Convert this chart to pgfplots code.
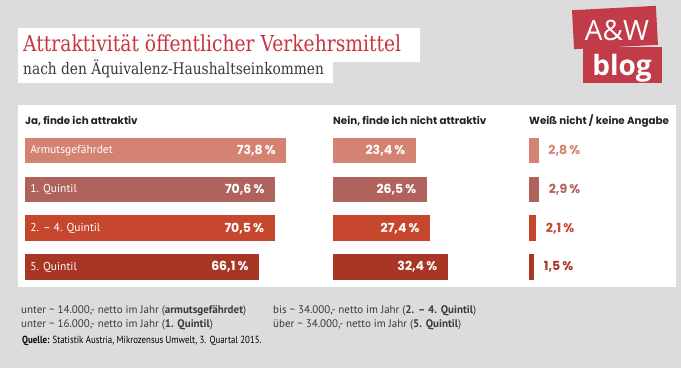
\documentclass[border=0pt]{standalone}
\usepackage{fontspec}
\usepackage{pgfplots}
\pgfplotsset{compat=1.18}
\setmainfont{PT Sans}
\newfontfamily\titlefont{DejaVu Serif}[FakeStretch=0.85]
\newfontfamily\subfont{DejaVu Serif}[FakeStretch=0.86]
\newfontfamily\pop{Poppins}
\newfontfamily\logofont{Open Sans}
\newfontfamily\quellefont{PT Sans}[FakeStretch=0.86]
\definecolor{bg}{HTML}{DCDCDC}
\definecolor{cA}{HTML}{D48372}
\definecolor{cB}{HTML}{B0625C}
\definecolor{cC}{HTML}{C7472E}
\definecolor{cD}{HTML}{A93525}
\definecolor{titred}{HTML}{C8343F}
\definecolor{logored}{HTML}{C13B48}
\definecolor{dark}{HTML}{222222}
\definecolor{foot}{HTML}{3A3A3A}
\pgfplotstableread{
idx ja nein weiss
0 73.8 23.4 2.8
1 70.6 26.5 2.9
2 70.5 27.4 2.1
3 66.1 32.4 1.5
}\data
\pgfplotsset{
  barax/.style={
    xbar, scale only axis, clip=false, axis on top,
    height=155.3pt, xmin=0,
    ymin=-0.5, ymax=3.5, y dir=reverse,
    axis line style={draw=none}, tick style={draw=none},
    xtick=\empty, ytick=\empty,
    point meta=x,
    nodes near coords={\pgfmathprintnumber{\pgfplotspointmeta}\,\%},
    /pgf/number format/.cd, use comma, fixed, fixed zerofill, precision=1, assume math mode=true,
    /pgfplots/.cd,
  },
  b/.style={draw=none, fill=#1, bar shift=0pt, bar width=25.5pt},
}
\begin{document}
\begin{tikzpicture}[x=1pt,y=1pt]
\fill[bg] (0,0) rectangle (681,368);
\path[use as bounding box] (0,0) rectangle (681,368);
% title boxes
\fill[white] (18,285) rectangle (333,308);
\fill[white] (18,306) rectangle (420,340);
\node[anchor=base west, inner sep=0, text=titred, font=\titlefont\fontsize{22}{25}\selectfont] at (23,317) {Attraktivität öffentlicher Verkehrsmittel};
\node[anchor=base west, inner sep=0, text=foot, font=\subfont\fontsize{16}{18}\selectfont] at (23,294) {nach den Äquivalenz-Haushaltseinkommen};
% logo
\fill[logored, rotate around={3:(615,340)}] (573,321) rectangle (657,360);
\fill[logored] (583,285) rectangle (662,321);
\node[anchor=base, inner sep=0, text=white, font=\logofont\fontsize{28}{30}\selectfont] at (617,328) {A\&W};
\node[anchor=base, inner sep=0, text=white, font=\logofont\bfseries\fontsize{28}{30}\selectfont] at (622,293) {blog};
% panel
\fill[white] (18,81) rectangle (676,263);
% headers
\node[anchor=base west, inner sep=0, text=dark, font=\pop\bfseries\fontsize{10.3}{12}\selectfont] at (25,244) {Ja, finde ich attraktiv};
\node[anchor=base west, inner sep=0, text=dark, font=\pop\bfseries\fontsize{10.3}{12}\selectfont] at (333,244) {Nein, finde ich nicht attraktiv};
\node[anchor=base west, inner sep=0, text=dark, font=\pop\bfseries\fontsize{10.3}{12}\selectfont] at (529,244) {Weiß nicht / keine Angabe};
% column 1
\begin{axis}[barax, at={(25pt,81.6pt)}, anchor=south west, width=283.2pt, xmax=80,
  ytick={0,1,2,3},
  yticklabels={Armutsgefährdet,1. Quintil,2. – 4. Quintil,5. Quintil},
  yticklabel style={anchor=west, xshift=6pt, text=white, font=\fontsize{11.5}{13}\selectfont},
  every node near coord/.append style={anchor=east, xshift=-7pt, text=white, font=\pop\bfseries\fontsize{12.5}{14}\selectfont}]
\addplot[b=cA] table[x=ja, y=idx, restrict expr to domain={\thisrow{idx}}{0:0}] {\data};
\addplot[b=cB] table[x=ja, y=idx, restrict expr to domain={\thisrow{idx}}{1:1}] {\data};
\addplot[b=cC] table[x=ja, y=idx, restrict expr to domain={\thisrow{idx}}{2:2}] {\data};
\addplot[b=cD] table[x=ja, y=idx, restrict expr to domain={\thisrow{idx}}{3:3}] {\data};
\end{axis}
% column 2
\begin{axis}[barax, at={(333pt,81.6pt)}, anchor=south west, width=141.6pt, xmax=40,
  every node near coord/.append style={anchor=east, xshift=-7pt, text=white, font=\pop\bfseries\fontsize{12.5}{14}\selectfont}]
\addplot[b=cA] table[x=nein, y=idx, restrict expr to domain={\thisrow{idx}}{0:0}] {\data};
\addplot[b=cB] table[x=nein, y=idx, restrict expr to domain={\thisrow{idx}}{1:1}] {\data};
\addplot[b=cC] table[x=nein, y=idx, restrict expr to domain={\thisrow{idx}}{2:2}] {\data};
\addplot[b=cD] table[x=nein, y=idx, restrict expr to domain={\thisrow{idx}}{3:3}] {\data};
\end{axis}
% column 3
\begin{axis}[barax, at={(529pt,81.6pt)}, anchor=south west, width=141.6pt, xmax=40,
  every node near coord/.append style={anchor=west, xshift=6pt, font=\pop\bfseries\fontsize{12.5}{14}\selectfont}]
\addplot[b=cA, every node near coord/.append style={text=cA}] table[x=weiss, y=idx, restrict expr to domain={\thisrow{idx}}{0:0}] {\data};
\addplot[b=cB, every node near coord/.append style={text=cB}] table[x=weiss, y=idx, restrict expr to domain={\thisrow{idx}}{1:1}] {\data};
\addplot[b=cC, every node near coord/.append style={text=cC}] table[x=weiss, y=idx, restrict expr to domain={\thisrow{idx}}{2:2}] {\data};
\addplot[b=cD, every node near coord/.append style={text=cD}] table[x=weiss, y=idx, restrict expr to domain={\thisrow{idx}}{3:3}] {\data};
\end{axis}
% footer
\begin{scope}[every node/.style={anchor=base west, inner sep=0, text=foot, font=\fontsize{11}{13}\selectfont}]
\node at (21,55) {unter \textasciitilde{} 14.000,- netto im Jahr (\textbf{armutsgefährdet})};
\node at (21,41) {unter \textasciitilde{} 16.000,- netto im Jahr (\textbf{1. Quintil})};
\node at (273,55) {bis \textasciitilde{} 34.000,- netto im Jahr (\textbf{2. – 4. Quintil})};
\node at (273,41) {über \textasciitilde{} 34.000,- netto im Jahr (\textbf{5. Quintil})};
\end{scope}
\node[anchor=base west, inner sep=0, text=black, font=\quellefont\fontsize{10.3}{12}\selectfont] at (22,25) {\textbf{Quelle:} Statistik Austria, Mikrozensus Umwelt, 3. Quartal 2015.};
\end{tikzpicture}
\end{document}
